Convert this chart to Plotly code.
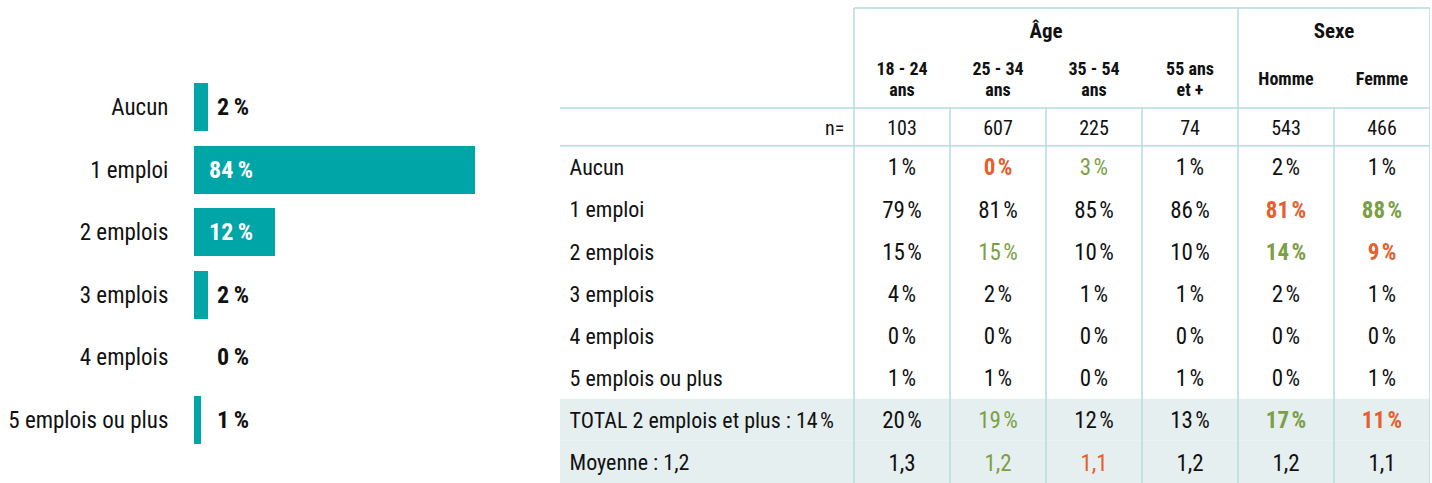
import plotly.graph_objects as go

# ---------------- data ----------------
bar_categories = ["Aucun", "1 emploi", "2 emplois", "3 emplois", "4 emplois", "5 emplois ou plus"]
bar_values = [2, 84, 12, 2, 0, 1]

group_headers = ["Âge", "Sexe"]
group_spans = [4, 2]
sub_headers = [["18 - 24", "ans"], ["25 - 34", "ans"], ["35 - 54", "ans"], ["55 ans", "et +"], ["Homme"], ["Femme"]]
n_values = [103, 607, 225, 74, 543, 466]

row_labels = ["Aucun", "1 emploi", "2 emplois", "3 emplois", "4 emplois", "5 emplois ou plus",
              "TOTAL 2 emplois et plus : 14\u200a%", "Moyenne : 1,2"]
row_values = [
    [1, 0, 3, 1, 2, 1],
    [79, 81, 85, 86, 81, 88],
    [15, 15, 10, 10, 14, 9],
    [4, 2, 1, 1, 2, 1],
    [0, 0, 0, 0, 0, 0],
    [1, 1, 0, 1, 0, 1],
    [20, 19, 12, 13, 17, 11],
    [1.3, 1.2, 1.1, 1.2, 1.2, 1.1],
]
# significance: "+" higher, "-" lower, "B" = strong
row_signif = [
    ["", "-B", "+", "", "", ""],
    ["", "", "", "", "-B", "+B"],
    ["", "+", "", "", "+B", "-B"],
    ["", "", "", "", "", ""],
    ["", "", "", "", "", ""],
    ["", "", "", "", "", ""],
    ["", "+", "", "", "+B", "-B"],
    ["", "+", "-", "", "", ""],
]
mean_row = 7
shaded_rows = [6, 7]

# ---------------- styles ----------------
FONT = "Liberation Sans Narrow, Roboto Condensed, DejaVu Sans Condensed, Arial Narrow, sans-serif"
TEAL = "#00a5a8"
LINE = "#b5dde0"
SHADE = "#e6eff0"
ORANGE = "#e4602e"
GREEN = "#7b9f45"
BLACK = "#111111"
SP = "\u200a"
DY = 0.07   # small downward nudge of table texts (row units)

fig = go.Figure()

# ---------------- left bar chart ----------------
fig.add_trace(go.Bar(
    y=bar_categories, x=bar_values, orientation="h",
    marker=dict(color=TEAL, line=dict(width=0)), width=0.77,
    hoverinfo="skip", showlegend=False, xaxis="x", yaxis="y",
))

for cat, v in zip(bar_categories, bar_values):
    inside = v >= 10
    fig.add_annotation(
        x=0, y=cat, xref="x", yref="y", xanchor="left", yanchor="middle",
        xshift=13 if inside else 21,
        text="<b>%d\u2009%%</b>" % v, showarrow=False,
        font=dict(family=FONT, size=24, color="white" if inside else BLACK),
    )

# ---------------- table ----------------
ncols = len(n_values)
label_w = 3.0625          # label column width in data-column units
row_top = [-3.266, -0.894, 0.0]   # top of header, top of n row, top of body
y_group = -2.744 + DY
y_sub = -1.606 + DY
y_n = -0.444 + DY
nrows = len(row_labels)

# shading
for r in shaded_rows:
    fig.add_shape(type="rect", xref="x2", yref="y2", x0=-label_w, x1=ncols, y0=r, y1=r + 1,
                  fillcolor=SHADE, line=dict(width=0), layer="below")

# header outline
fig.add_shape(type="line", xref="x2", yref="y2", x0=0, x1=ncols, y0=row_top[0], y1=row_top[0],
              line=dict(color=LINE, width=1.5))
edge = 0
for span in [0] + group_spans:
    edge += span
    fig.add_shape(type="line", xref="x2", yref="y2", x0=edge, x1=edge, y0=row_top[0], y1=row_top[1],
                  line=dict(color=LINE, width=1.5))
for yy in row_top[1:]:
    fig.add_shape(type="line", xref="x2", yref="y2", x0=-label_w, x1=ncols, y0=yy, y1=yy,
                  line=dict(color=LINE, width=1.5))
for c in range(ncols + 1):
    fig.add_shape(type="line", xref="x2", yref="y2", x0=c, x1=c, y0=row_top[1], y1=nrows,
                  line=dict(color=LINE, width=1.5))

# group headers
gx = []
start = 0
for span in group_spans:
    gx.append(start + span / 2)
    start += span
fig.add_trace(go.Scatter(
    x=gx, y=[y_group] * len(gx), mode="text", text=["<b>%s</b>" % g for g in group_headers],
    textfont=dict(family=FONT, size=21, color=BLACK), textposition="middle center",
    hoverinfo="skip", showlegend=False, xaxis="x2", yaxis="y2"))

# sub headers (one or two lines)
sx, sy, st = [], [], []
for i, lines in enumerate(sub_headers):
    k = len(lines)
    for j, t in enumerate(lines):
        sx.append(i + 0.5)
        sy.append(y_sub + (j - (k - 1) / 2) * 0.5)
        st.append("<b>%s</b>" % t)
fig.add_trace(go.Scatter(
    x=sx, y=sy, mode="text", text=st,
    textfont=dict(family=FONT, size=18, color=BLACK), textposition="middle center",
    hoverinfo="skip", showlegend=False, xaxis="x2", yaxis="y2"))

# n row
fig.add_trace(go.Scatter(
    x=[-0.1], y=[y_n], mode="text", text=["n="],
    textfont=dict(family=FONT, size=20, color=BLACK), textposition="middle left",
    hoverinfo="skip", showlegend=False, xaxis="x2", yaxis="y2"))
fig.add_trace(go.Scatter(
    x=[c + 0.5 for c in range(ncols)], y=[y_n] * ncols, mode="text", text=[str(n) for n in n_values],
    textfont=dict(family=FONT, size=20, color=BLACK), textposition="middle center",
    hoverinfo="skip", showlegend=False, xaxis="x2", yaxis="y2"))

# row labels
fig.add_trace(go.Scatter(
    x=[-label_w + 0.1] * nrows, y=[r + 0.5 + DY for r in range(nrows)], mode="text", text=row_labels,
    textfont=dict(family=FONT, size=22, color=BLACK), textposition="middle right",
    hoverinfo="skip", showlegend=False, xaxis="x2", yaxis="y2"))


def fmt(v, r):
    if r == mean_row:
        return ("%.1f" % v).replace(".", ",")
    return "%d%s%%" % (v, SP)


# body values, one trace per column
for c in range(ncols):
    texts, colors = [], []
    for r in range(nrows):
        s = row_signif[r][c]
        t = fmt(row_values[r][c], r)
        if "B" in s:
            t = "<b>%s</b>" % t
        texts.append(t)
        colors.append(GREEN if "+" in s else ORANGE if "-" in s else BLACK)
    fig.add_trace(go.Scatter(
        x=[c + 0.5] * nrows, y=[r + 0.5 + DY for r in range(nrows)], mode="text", text=texts,
        textfont=dict(family=FONT, size=23, color=colors), textposition="middle center",
        hoverinfo="skip", showlegend=False, xaxis="x2", yaxis="y2"))

W, H = 1432, 483
fig.update_layout(
    width=W, height=H, margin=dict(l=0, r=0, t=0, b=0),
    paper_bgcolor="white", plot_bgcolor="rgba(0,0,0,0)",
    font=dict(family=FONT, size=23, color=BLACK),
    bargap=0,
    xaxis=dict(domain=[194 / W, 475 / W], range=[0, 41.6], visible=False, fixedrange=True),
    yaxis=dict(domain=[(H - 451.3) / H, (H - 75.7) / H], autorange="reversed",
               showgrid=False, zeroline=False, showline=False,
               ticks="outside", ticklen=20, tickcolor="rgba(0,0,0,0)",
               tickfont=dict(family=FONT, size=23, color=BLACK), fixedrange=True),
    xaxis2=dict(domain=[560 / W, 1430 / W], range=[-label_w, ncols], visible=False, anchor="y2",
                fixedrange=True),
    yaxis2=dict(domain=[0, 1], range=[nrows, -3.456], visible=False, anchor="x2", fixedrange=True),
)

fig.write_html(
    "out.html",
    config={"displayModeBar": False, "staticPlot": True},
    post_script="document.body.style.margin='0';document.body.style.overflow='hidden';",
)
